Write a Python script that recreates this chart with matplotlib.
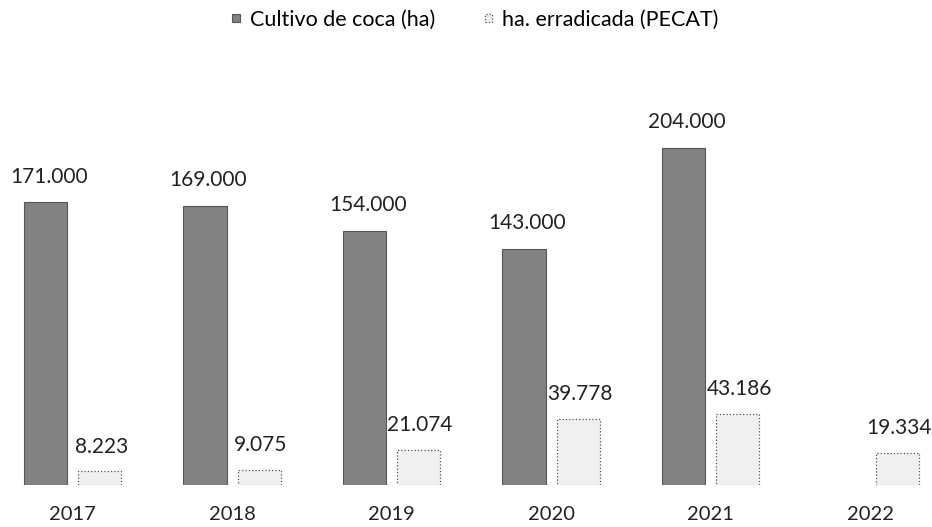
#!/usr/bin/env python
"""Coca cultivation vs. eradicated hectares (PECAT), 2017-2022."""

import numpy as np
import matplotlib.pyplot as plt
from matplotlib.patches import Patch

plt.rcParams['font.family'] = ['Lato', 'DejaVu Sans']

years = ['2017', '2018', '2019', '2020', '2021', '2022']
cultivo = [171000, 169000, 154000, 143000, 204000, None]
erradicada = [8223, 9075, 21074, 39778, 43186, 19334]

dark_fill = '#828282'
dark_edge = '#555555'
light_fill = '#f0f0f0'
light_edge = '#555555'


def fmt(v):
    # thousands separator with a dot, as in Spanish
    return f'{v:,.0f}'.replace(',', '.')


fig = plt.figure(figsize=(9.32, 5.27), dpi=100)
ax = fig.add_axes([0, 0.0797, 1, 0.806])

x = np.arange(len(years))
width = 0.27
offset = 0.339

for i, v in enumerate(cultivo):
    if v is None:
        continue
    ax.bar(x[i], v, width=width, color=dark_fill, edgecolor=dark_edge,
           linewidth=0.8, zorder=2)
    ax.text(x[i] + 0.02, v + 9500, fmt(v), ha='center', va='bottom',
            fontsize=15, color='#222222')

for i, v in enumerate(erradicada):
    ax.bar(x[i] + offset, v, width=width, color=light_fill,
           edgecolor=light_edge, linewidth=0.9, linestyle=':', zorder=2)
    ax.text(x[i] + offset + 0.01, v + 9000, fmt(v), ha='center',
            va='bottom', fontsize=15, color='#222222')

ax.set_xlim(-0.285, 5.558)
ax.set_ylim(0, 257100)
ax.set_xticks(x + offset / 2)
ax.set_xticklabels(years, fontsize=14.5, color='#222222')
ax.tick_params(axis='x', length=0, pad=15)
ax.set_yticks([])
for s in ax.spines.values():
    s.set_visible(False)

# small square legend keys
handles = [Patch(facecolor=dark_fill, edgecolor=dark_edge, linewidth=0.8),
           Patch(facecolor=light_fill, edgecolor=light_edge, linewidth=0.9,
                 linestyle=':')]
fig.legend(handles, ['Cultivo de coca (ha)', 'ha. erradicada (PECAT)'],
           loc='center', bbox_to_anchor=(0.51, 1 - 20 / 527), ncol=2,
           frameon=False, fontsize=15.5, handlelength=0.37, handleheight=0.19,
           handletextpad=0.45, columnspacing=2.3, borderpad=0)

fig.savefig('out.png', dpi=100)
